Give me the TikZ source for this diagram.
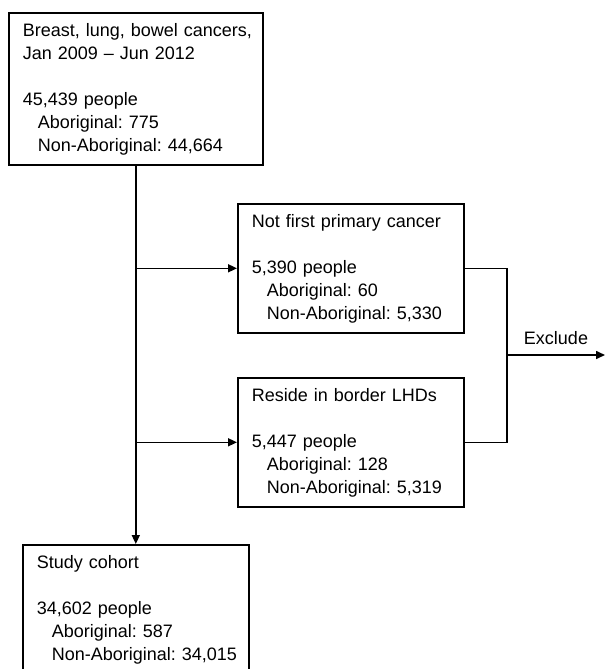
\documentclass[tikz,border=0pt]{standalone}
\usepackage{fontspec}
\setmainfont{Liberation Sans}[WordSpace=0.7]
\usetikzlibrary{arrows.meta}
\tikzset{
  box/.style={draw,line width=1.6pt,anchor=north west,inner xsep=14pt,inner ysep=0pt,
    align=left,font=\fontsize{18}{23}\selectfont\frenchspacing,
    execute at begin node={\rule{0pt}{24pt}},
    execute at end node={\rule[-13pt]{0pt}{13pt}}},
  link/.style={line width=1.6pt,-{Triangle[length=9pt,width=8pt]}}
}
\newcommand{\sub}{\hspace*{15pt}}
\begin{document}
\begin{tikzpicture}[x=1pt,y=-1pt]
  \useasboundingbox (0,0) rectangle (605,669);
  \node[box,text width=226pt] (start) at (8,12) {\mbox{Breast, lung, bowel cancers,}\\Jan 2009 – Jun 2012\\[23pt]45,439 people\\\sub Aboriginal: 775\\\sub\mbox{Non-Aboriginal: 44,664}};
  \node[box,text width=198pt] (notfirst) at (237,203) {\mbox{Not first primary cancer}\\[23pt]5,390 people\\\sub Aboriginal: 60\\\sub\mbox{Non-Aboriginal: 5,330}};
  \node[box,text width=198pt] (border) at (237,377) {\mbox{Reside in border LHDs}\\[23pt]5,447 people\\\sub Aboriginal: 128\\\sub\mbox{Non-Aboriginal: 5,319}};
  \node[box,text width=198pt] (cohort) at (22,544) {Study cohort\\[23pt]34,602 people\\\sub Aboriginal: 587\\\sub\mbox{Non-Aboriginal: 34,015}};
  \coordinate (join) at (507,355);
  \coordinate (out) at (605,355);
  \draw[link] (start.south) -- (cohort.north);
  \draw[link] (notfirst.west -| start.south) -- (notfirst.west);
  \draw[link] (border.west -| start.south) -- (border.west);
  \draw[line width=1.6pt] (notfirst.east) -| (join) |- (border.east);
  \draw[link] (join) -- (out) node[midway,above=6pt,font=\fontsize{18}{23}\selectfont] (excl) {Exclude};
\end{tikzpicture}
\end{document}
